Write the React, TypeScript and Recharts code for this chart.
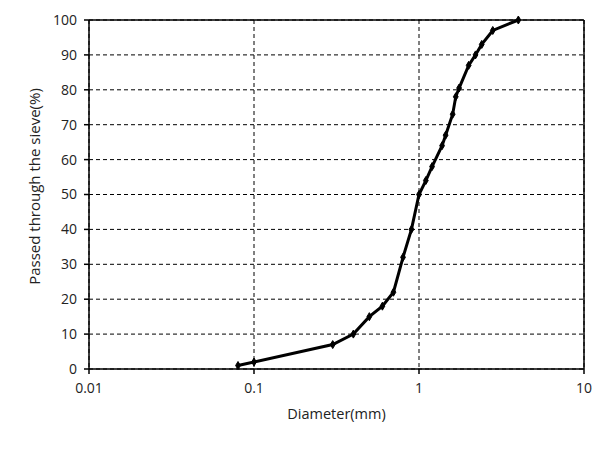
import React from "react";
import { LineChart, Line, XAxis, YAxis, CartesianGrid, ReferenceLine, Label } from "recharts";

const diameters = [0.08, 0.1, 0.3, 0.4, 0.5, 0.6, 0.7, 0.8, 0.9, 1.0, 1.1, 1.2, 1.38, 1.45, 1.6, 1.67, 1.75, 2.0, 2.2, 2.4, 2.8, 4.0];
const passed = [1, 2, 7, 10, 15, 18, 22, 32, 40, 50, 54, 58, 64, 67, 73, 78, 80.5, 87, 90, 93, 97, 100];
const xTicks = [0.01, 0.1, 1, 10];
const yTicks = [0, 10, 20, 30, 40, 50, 60, 70, 80, 90, 100];

const data = diameters.map((d, i) => ({ d, p: passed[i] }));

const FONT = "'Open Sans', Carlito, sans-serif";

const Diamond = (props: any) => {
  const { cx, cy } = props;
  if (cx == null || cy == null) return null;
  const s = 4;
  return (
    <path
      d={`M${cx},${cy - s} L${cx + s * 0.6},${cy} L${cx},${cy + s} L${cx - s * 0.6},${cy} Z`}
      fill="#000"
      stroke="#000"
      strokeWidth={1}
    />
  );
};

const YLabel = (props: any) => {
  const vb = props.viewBox || { x: 29, y: 20, width: 60, height: 349 };
  const x = vb.x + 5;
  const y = vb.y + vb.height / 2 - 8;
  return (
    <text
      x={x}
      y={y}
      transform={`rotate(-90 ${x} ${y})`}
      textAnchor="middle"
      dominantBaseline="central"
      fill="#222"
      fontSize={15}
      fontFamily={FONT}
    >
      Passed through the sieve(%)
    </text>
  );
};

export default function App() {
  return (
    <div style={{ position: "absolute", left: 0, top: 0, width: 611, height: 454, background: "#fff" }}>
      <LineChart width={611} height={454} data={data} margin={{ top: 20, right: 27, bottom: 55, left: 29 }}>
        <CartesianGrid stroke="#000" strokeDasharray="4 3" strokeWidth={1} />
        <XAxis
          dataKey="d"
          type="number"
          scale="log"
          domain={[0.01, 10]}
          ticks={xTicks}
          allowDataOverflow
          tickFormatter={(v: number) => String(v)}
          stroke="#000"
          strokeWidth={1.5}
          tickSize={5}
          height={30}
          tick={{ fill: "#222", fontSize: 14, fontFamily: FONT }}
          tickMargin={9}
        >
          <Label value="Diameter(mm)" position="insideBottom" offset={-20} style={{ fill: "#222", fontSize: 14.5, fontFamily: FONT }} />
        </XAxis>
        <YAxis
          type="number"
          domain={[0, 100]}
          ticks={yTicks}
          stroke="#000"
          strokeWidth={1.5}
          tickSize={5}
          width={60}
          tick={{ fill: "#222", fontSize: 14, fontFamily: FONT }}
          tickMargin={7}
        >
          <Label content={<YLabel />} />
        </YAxis>
        <ReferenceLine y={100} stroke="#000" strokeWidth={1.5} />
        <ReferenceLine x={10} stroke="#000" strokeWidth={1.5} />
        <Line
          dataKey="p"
          type="linear"
          stroke="#000"
          strokeWidth={3}
          dot={<Diamond />}
          activeDot={false}
          isAnimationActive={false}
        />
      </LineChart>
    </div>
  );
}
